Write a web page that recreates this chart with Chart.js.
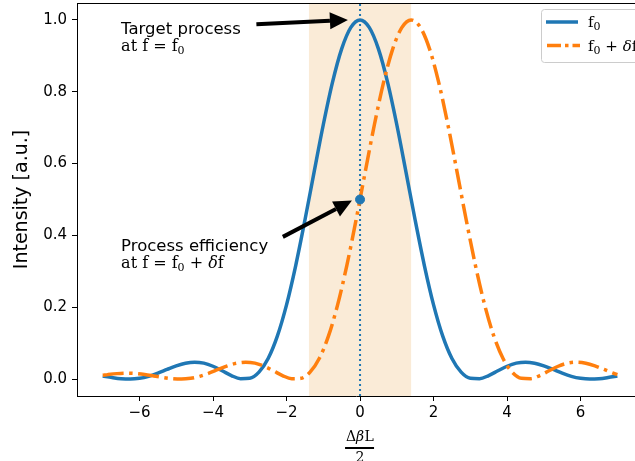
<!DOCTYPE html>
<html>
<head>
<meta charset="utf-8">
<script src="https://cdn.jsdelivr.net/npm/chart.js@4.4.1/dist/chart.umd.min.js"></script>
<style>
  html, body { margin: 0; padding: 0; background: #fff; }
</style>
</head>
<body>
<canvas id="chart" width="635" height="461"></canvas>
<script>
// axis ticks
const xTicks = [-6, -4, -2, 0, 2, 4, 6];
const yTicks = [0, 0.2, 0.4, 0.6, 0.8, 1.0];

// f0 curve
const xBlue = [-7, -6.75, -6.5, -6.25, -6, -5.75, -5.5, -5.25, -5, -4.75, -4.5, -4.25, -4, -3.75, -3.5, -3.25, -3,
  -2.75, -2.5, -2.25, -2, -1.75, -1.5, -1.25, -1, -0.75, -0.5, -0.25, 0, 0.25, 0.5, 0.75, 1, 1.25, 1.5, 1.75, 2,
  2.25, 2.5, 2.75, 3, 3.25, 3.5, 3.75, 4, 4.25, 4.5, 4.75, 5, 5.25, 5.5, 5.75, 6, 6.25, 6.5, 6.75, 7];
const yBlue = [0.0088, 0.0045, 0.0011, 0.0000, 0.0022, 0.0078, 0.0165, 0.0268, 0.0368, 0.0443, 0.0472, 0.0444,
  0.0358, 0.0232, 0.0100, 0.0011, 0.0022, 0.0193, 0.0573, 0.1196, 0.2067, 0.3162, 0.4422, 0.5764, 0.7081, 0.8260,
  0.9194, 0.9793, 1.0000, 0.9793, 0.9194, 0.8260, 0.7081, 0.5764, 0.4422, 0.3162, 0.2067, 0.1196, 0.0573, 0.0193,
  0.0022, 0.0011, 0.0100, 0.0232, 0.0358, 0.0444, 0.0472, 0.0443, 0.0368, 0.0268, 0.0165, 0.0078, 0.0022, 0.0000,
  0.0011, 0.0045, 0.0088];

// f0 + δf curve
const xOrange = [-7, -6.86, -6.61, -6.36, -6.11, -5.86, -5.61, -5.36, -5.11, -4.86, -4.61, -4.36, -4.11, -3.86,
  -3.61, -3.36, -3.11, -2.86, -2.61, -2.36, -2.11, -1.86, -1.61, -1.36, -1.11, -0.86, -0.61, -0.36, -0.11, 0.14,
  0.39, 0.64, 0.89, 1.14, 1.39, 1.64, 1.89, 2.14, 2.39, 2.64, 2.89, 3.14, 3.39, 3.64, 3.89, 4.14, 4.39, 4.64, 4.89,
  5.14, 5.39, 5.64, 5.89, 6.14, 6.39, 6.64, 6.89, 7];
const yOrange = [0.0105, 0.0125, 0.0153, 0.0165, 0.0156, 0.0129, 0.0088, 0.0045, 0.0011, 0.0000, 0.0022, 0.0078,
  0.0165, 0.0268, 0.0368, 0.0443, 0.0472, 0.0444, 0.0358, 0.0232, 0.0100, 0.0011, 0.0022, 0.0193, 0.0573, 0.1196,
  0.2067, 0.3162, 0.4422, 0.5764, 0.7081, 0.8260, 0.9194, 0.9793, 1.0000, 0.9793, 0.9194, 0.8260, 0.7081, 0.5764,
  0.4422, 0.3162, 0.2067, 0.1196, 0.0573, 0.0193, 0.0022, 0.0011, 0.0100, 0.0232, 0.0358, 0.0444, 0.0472, 0.0443,
  0.0368, 0.0268, 0.0165, 0.0124];

const markerX = [0];
const markerY = [0.5];
const band = [-1.39, 1.39];
const vline = 0;

const BLUE = '#1f77b4';
const ORANGE = '#ff7f0e';
const SANS = "'DejaVu Sans', sans-serif";
const SERIF = "'DejaVu Serif', serif";
const DASHDOT = [21, 5.5, 3.5, 5.5];

const zip = (xs, ys) => xs.map((x, i) => ({ x, y: ys[i] }));

// text with subscripts, segments: {t, sub, italic}
function drawMath(ctx, segs, x, y, size) {
  ctx.save();
  ctx.textBaseline = 'alphabetic';
  ctx.textAlign = 'left';
  ctx.fillStyle = '#000';
  let cx = x;
  segs.forEach(s => {
    const sz = s.sub ? Math.round(size * 0.7) : size;
    ctx.font = (s.italic ? 'italic ' : '') + sz + 'px ' + SERIF;
    ctx.fillText(s.t, cx, y + (s.sub ? 3 : 0));
    cx += ctx.measureText(s.t).width;
  });
  ctx.restore();
}

function drawArrow(ctx, x1, y1, x2, y2) {
  const a = Math.atan2(y2 - y1, x2 - x1);
  const hl = 18, hw = 8.5;
  const bx = x2 - hl * Math.cos(a), by = y2 - hl * Math.sin(a);
  ctx.save();
  ctx.strokeStyle = '#000';
  ctx.fillStyle = '#000';
  ctx.lineWidth = 4;
  ctx.beginPath();
  ctx.moveTo(x1, y1);
  ctx.lineTo(bx, by);
  ctx.stroke();
  ctx.beginPath();
  ctx.moveTo(x2, y2);
  ctx.lineTo(bx + hw * Math.sin(a), by - hw * Math.cos(a));
  ctx.lineTo(bx - hw * Math.sin(a), by + hw * Math.cos(a));
  ctx.closePath();
  ctx.fill();
  ctx.restore();
}

const decor = {
  id: 'decor',
  beforeDatasetsDraw(chart) {
    const { ctx, chartArea: ca, scales: { x, y } } = chart;
    ctx.save();
    ctx.fillStyle = '#faebd7';
    const l = x.getPixelForValue(band[0]), r = x.getPixelForValue(band[1]);
    ctx.fillRect(l, ca.top, r - l, ca.bottom - ca.top);
    const vx = x.getPixelForValue(vline);
    ctx.strokeStyle = BLUE;
    ctx.lineWidth = 2;
    ctx.setLineDash([2, 3]);
    ctx.beginPath();
    ctx.moveTo(vx, ca.bottom);
    ctx.lineTo(vx, ca.top);
    ctx.stroke();
    ctx.restore();
  },
  afterDraw(chart) {
    const { ctx, chartArea: ca, scales: { x, y } } = chart;
    ctx.save();
    // top spine
    ctx.strokeStyle = '#000';
    ctx.lineWidth = 1;
    ctx.beginPath();
    ctx.moveTo(ca.left, ca.top + 0.5);
    ctx.lineTo(ca.right, ca.top + 0.5);
    ctx.stroke();

    // annotations
    ctx.fillStyle = '#000';
    ctx.font = '16.5px ' + SANS;
    ctx.textBaseline = 'alphabetic';
    ctx.fillText('Target process', x.getPixelForValue(-6.5), y.getPixelForValue(0.961));
    drawMath(ctx, [{ t: 'at f = f' }, { t: '0', sub: true }], x.getPixelForValue(-6.5), y.getPixelForValue(0.912), 16);
    ctx.font = '16.5px ' + SANS;
    ctx.fillText('Process efficiency', x.getPixelForValue(-6.5), y.getPixelForValue(0.357));
    drawMath(ctx, [{ t: 'at f = f' }, { t: '0', sub: true }, { t: ' + ' }, { t: 'δ', italic: true }, { t: 'f' }],
      x.getPixelForValue(-6.5), y.getPixelForValue(0.309), 16);

    drawArrow(ctx, x.getPixelForValue(-2.82), y.getPixelForValue(0.988), x.getPixelForValue(-0.33), y.getPixelForValue(1.0));
    drawArrow(ctx, x.getPixelForValue(-2.1), y.getPixelForValue(0.396), x.getPixelForValue(-0.22), y.getPixelForValue(0.497));

    // legend
    ctx.fillStyle = '#fff';
    ctx.strokeStyle = '#cccccc';
    ctx.lineWidth = 1;
    ctx.beginPath();
    ctx.roundRect(541.5, 9.5, 110, 53, 3);
    ctx.fill();
    ctx.stroke();
    ctx.lineWidth = 3.5;
    ctx.strokeStyle = BLUE;
    ctx.beginPath();
    ctx.moveTo(546, 22);
    ctx.lineTo(578, 22);
    ctx.stroke();
    ctx.strokeStyle = ORANGE;
    ctx.setLineDash([14, 4, 3.5, 4]);
    ctx.beginPath();
    ctx.moveTo(547, 45.5);
    ctx.lineTo(580, 45.5);
    ctx.stroke();
    ctx.setLineDash([]);
    drawMath(ctx, [{ t: 'f' }, { t: '0', sub: true }], 588, 27, 15);
    drawMath(ctx, [{ t: 'f' }, { t: '0', sub: true }, { t: ' + ' }, { t: 'δ', italic: true }, { t: 'f' }], 588, 51, 15);

    // x axis title (fraction)
    const cx = x.getPixelForValue(0);
    ctx.fillStyle = '#000';
    ctx.textAlign = 'center';
    ctx.font = '14px ' + SERIF;
    ctx.fillText('Δ', cx - 9, 441);
    ctx.font = 'italic 14px ' + SERIF;
    ctx.fillText('β', cx, 441);
    ctx.font = '14px ' + SERIF;
    ctx.fillText('L', cx + 9, 441);
    ctx.lineWidth = 2;
    ctx.strokeStyle = '#000';
    ctx.beginPath();
    ctx.moveTo(cx - 15, 448);
    ctx.lineTo(cx + 14, 448);
    ctx.stroke();
    ctx.fillText('2', cx, 462);

    // y axis title
    ctx.translate(22, (ca.top + ca.bottom) / 2);
    ctx.rotate(-Math.PI / 2);
    ctx.font = '19px ' + SANS;
    ctx.textBaseline = 'middle';
    ctx.fillText('Intensity [a.u.]', 0, 0);
    ctx.restore();
  }
};

new Chart(document.getElementById('chart'), {
  type: 'line',
  data: {
    datasets: [
      {
        label: 'f0 + δf',
        data: zip(xOrange, yOrange),
        borderColor: ORANGE,
        borderWidth: 3.5,
        borderDash: DASHDOT,
        borderCapStyle: 'butt',
        pointRadius: 0,
        fill: false,
        cubicInterpolationMode: 'monotone',
        order: 2,
      },
      {
        label: 'f0',
        data: zip(xBlue, yBlue),
        borderColor: BLUE,
        borderWidth: 3.5,
        pointRadius: 0,
        fill: false,
        cubicInterpolationMode: 'monotone',
        order: 3,
      },
      {
        label: 'marker',
        data: zip(markerX, markerY),
        showLine: false,
        pointRadius: 4.5,
        pointBackgroundColor: BLUE,
        pointBorderColor: BLUE,
        order: 1,
      },
    ]
  },
  options: {
    responsive: false,
    animation: false,
    layout: { autoPadding: false, padding: { top: 3, left: 0, right: 0, bottom: 0 } },
    plugins: { legend: { display: false }, tooltip: { enabled: false } },
    scales: {
      x: {
        type: 'linear',
        min: -7.7,
        max: 7.48,
        afterBuildTicks: s => { s.ticks = xTicks.map(v => ({ value: v })); },
        afterFit: s => { s.height = 65; s.paddingLeft = 0; s.paddingRight = 0; },
        ticks: {
          color: '#000',
          font: { family: SANS, size: 15 },
          padding: 3,
          maxRotation: 0,
          callback: v => String(v).replace('-', '\u2212'),
        },
        grid: { display: true, drawOnChartArea: false, drawTicks: true, tickLength: 5, color: '#000' },
        border: { display: true, color: '#000', width: 1 },
      },
      y: {
        type: 'linear',
        min: -0.047,
        max: 1.047,
        afterBuildTicks: s => { s.ticks = yTicks.map(v => ({ value: v })); },
        afterFit: s => { s.width = 77; s.paddingTop = 0; s.paddingBottom = 0; },
        ticks: {
          color: '#000',
          font: { family: SANS, size: 15 },
          padding: 5,
          callback: v => v.toFixed(1),
        },
        grid: { display: true, drawOnChartArea: false, drawTicks: true, tickLength: 5, color: '#000' },
        border: { display: true, color: '#000', width: 1 },
      }
    }
  },
  plugins: [decor]
});
</script>
</body>
</html>
